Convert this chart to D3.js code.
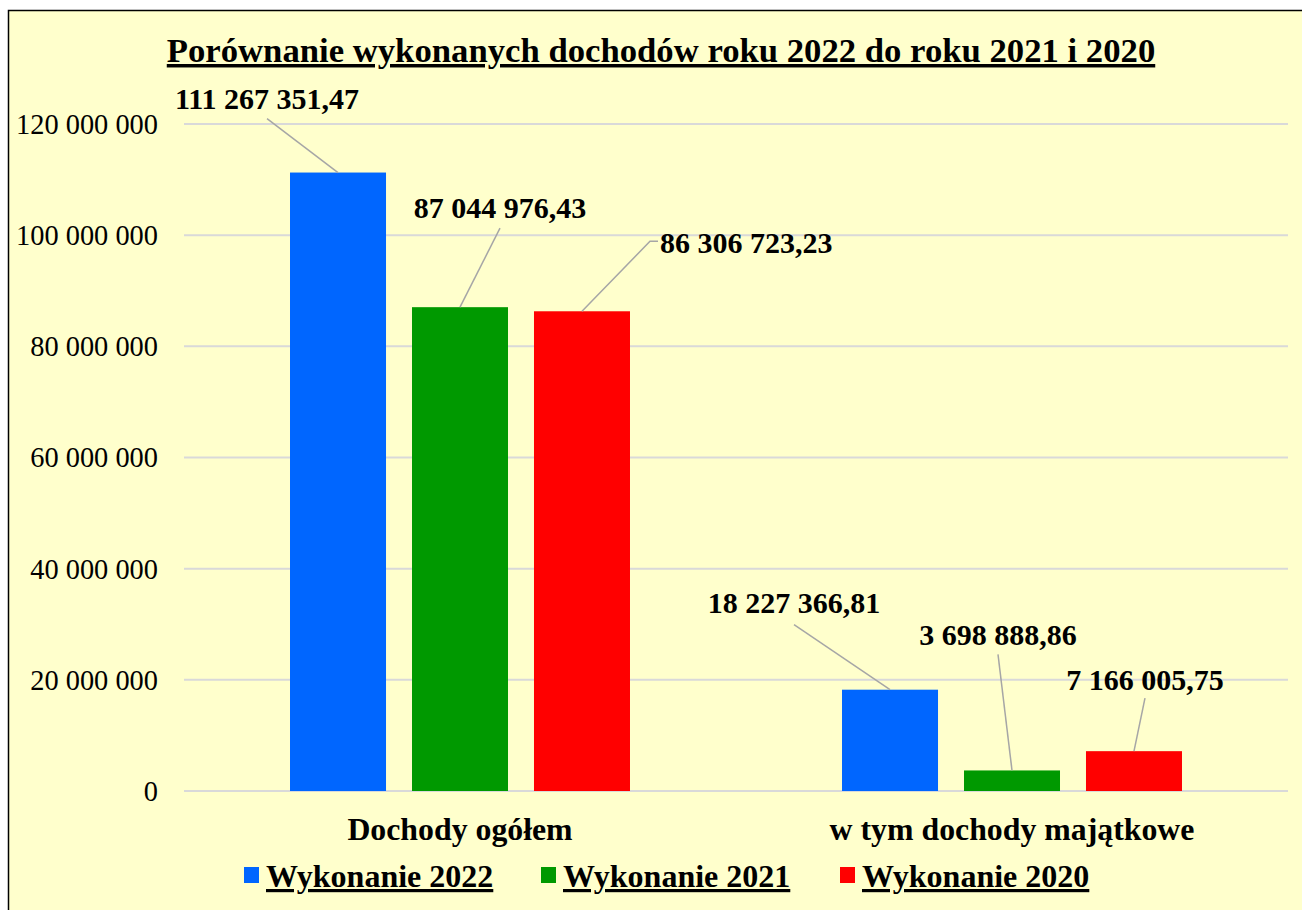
<!DOCTYPE html>
<html>
<head>
<meta charset="utf-8">
<script src="https://cdn.jsdelivr.net/npm/d3@7"></script>
<style>
  html, body { margin: 0; padding: 0; background: #ffffff; }
  svg { display: block; font-family: "Liberation Serif", "Times New Roman", serif; }
</style>
</head>
<body>
<div id="chart"></div>
<script>
// data
const categories = ['Dochody ogółem', 'w tym dochody majątkowe'];
const seriesNames = ['Wykonanie 2022', 'Wykonanie 2021', 'Wykonanie 2020'];
const values2022 = [111267351.47, 18227366.81];
const values2021 = [87044976.43, 3698888.86];
const values2020 = [86306723.23, 7166005.75];
const valueLabels2022 = ['111 267 351,47', '18 227 366,81'];
const valueLabels2021 = ['87 044 976,43', '3 698 888,86'];
const valueLabels2020 = ['86 306 723,23', '7 166 005,75'];
const yTicks = [0, 20000000, 40000000, 60000000, 80000000, 100000000, 120000000];

const colors = ['#0066FF', '#009900', '#FF0000'];

// label placement relative to bar top-centre (layout only)
const labelLayout = [
    [ // Dochody ogółem
        { dx: -71, by: -64, anchor: 'middle', leader: [[-71, -54]] },
        { dx: 40, by: -89, anchor: 'middle', leader: [[40, -79]] },
        { dx: 78, by: -58, anchor: 'start', leader: [[68, -70], [76, -70]] }
    ],
    [ // majątkowe
        { dx: -96, by: -77, anchor: 'middle', leader: [[-96, -65]] },
        { dx: -14, by: -125, anchor: 'middle', leader: [[-14, -116]] },
        { dx: 11, by: -61, anchor: 'middle', leader: [[11, -53]] }
    ]
];

const W = 1302, H = 910;
const svg = d3.select('#chart').append('svg').attr('width', W).attr('height', H);

// chart area frame
svg.append('rect')
    .attr('x', 8.5).attr('y', 10.5)
    .attr('width', W + 20).attr('height', H + 20)
    .attr('fill', '#FFFFCC')
    .attr('stroke', '#000').attr('stroke-width', 1.5);

const plotLeft = 184, plotRight = 1288, plotTop = 124, plotBottom = 791;

const x0 = d3.scaleBand().domain(categories).range([plotLeft, plotRight]).padding(0);
const x1 = d3.scaleBand().domain(seriesNames).range([0, x0.bandwidth()])
    .paddingInner(0.213).paddingOuter(0.869);
const y = d3.scaleLinear().domain([0, 120000000]).range([plotBottom, plotTop]);

const fmt = v => d3.format(',')(v).replace(/,/g, ' ');

// gridlines
svg.append('g').selectAll('line').data(yTicks).join('line')
    .attr('x1', plotLeft).attr('x2', plotRight)
    .attr('y1', d => y(d)).attr('y2', d => y(d))
    .attr('stroke', '#D9D9D9').attr('stroke-width', 2);

// y axis labels
svg.append('g').selectAll('text').data(yTicks).join('text')
    .attr('x', 158).attr('y', d => y(d))
    .attr('dy', '0.35em')
    .attr('text-anchor', 'end')
    .attr('font-size', '28.4px')
    .attr('fill', '#000')
    .text(d => fmt(d));

// title
svg.append('text')
    .attr('x', 661).attr('y', 62)
    .attr('text-anchor', 'middle')
    .attr('font-size', '34.7px').attr('font-weight', 'bold')
    .style('text-decoration', 'underline')
    .text('Porównanie wykonanych dochodów roku 2022 do roku 2021 i 2020');

// bars
const allValues = [values2022, values2021, values2020];
const allLabels = [valueLabels2022, valueLabels2021, valueLabels2020];
const barData = [];
categories.forEach((c, ci) => {
    seriesNames.forEach((s, si) => {
        barData.push({ cat: c, ci, series: s, si, value: allValues[si][ci], label: allLabels[si][ci] });
    });
});

svg.append('g').selectAll('rect').data(barData).join('rect')
    .attr('x', d => x0(d.cat) + x1(d.series))
    .attr('y', d => y(d.value))
    .attr('width', x1.bandwidth())
    .attr('height', d => y(0) - y(d.value))
    .attr('fill', d => colors[d.si]);

// leader lines and value labels
const lab = svg.append('g');
barData.forEach(d => {
    const cx = x0(d.cat) + x1(d.series) + x1.bandwidth() / 2;
    const top = y(d.value);
    const L = labelLayout[d.ci][d.si];
    const pts = [[cx, top]].concat(L.leader.map(p => [cx + p[0], top + p[1]]));
    lab.append('path')
        .attr('d', d3.line()(pts))
        .attr('fill', 'none')
        .attr('stroke', '#A6A6A6').attr('stroke-width', 1.5);
    lab.append('text')
        .attr('x', cx + L.dx).attr('y', top + L.by)
        .attr('text-anchor', L.anchor)
        .attr('font-size', '30px').attr('font-weight', 'bold')
        .text(d.label);
});

// category labels
svg.append('g').selectAll('text').data(categories).join('text')
    .attr('x', d => x0(d) + x0.bandwidth() / 2)
    .attr('y', 840)
    .attr('text-anchor', 'middle')
    .attr('font-size', '31.8px').attr('font-weight', 'bold')
    .text(d => d);

// legend
const legendX = [244, 541, 840];
const legend = svg.append('g');
seriesNames.forEach((s, i) => {
    legend.append('rect')
        .attr('x', legendX[i]).attr('y', 867)
        .attr('width', 15).attr('height', 16)
        .attr('fill', colors[i]);
    legend.append('text')
        .attr('x', legendX[i] + 22).attr('y', 887)
        .attr('font-size', '32px').attr('font-weight', 'bold')
        .style('text-decoration', 'underline')
        .text(s);
});
</script>
</body>
</html>
